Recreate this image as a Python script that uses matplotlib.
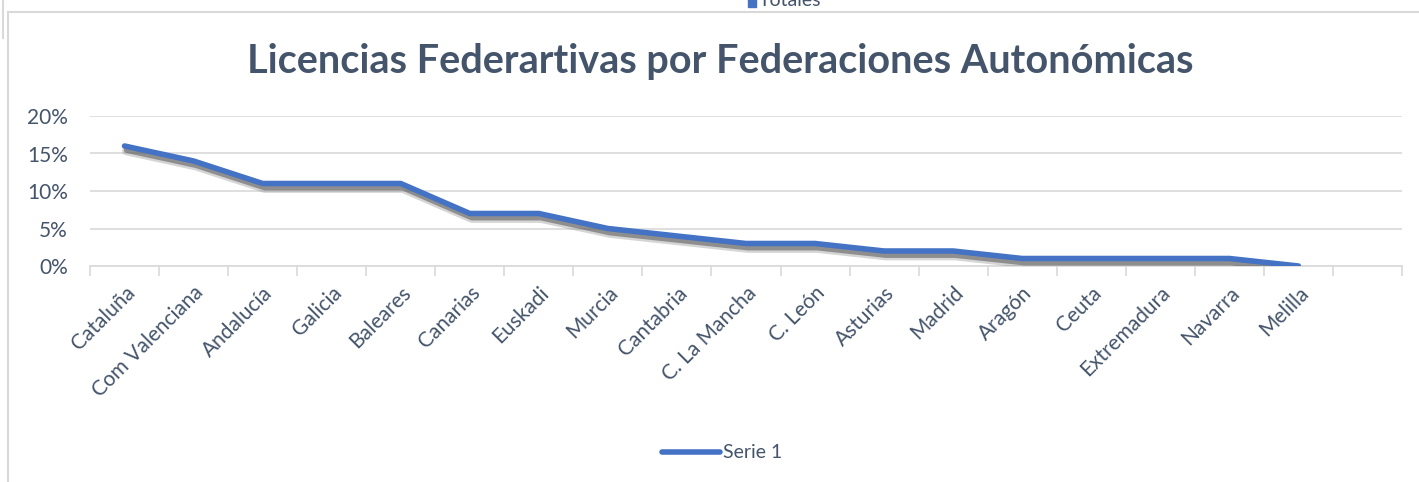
import matplotlib
matplotlib.use("Agg")
import matplotlib.pyplot as plt
import matplotlib.patheffects as pe
from matplotlib.ticker import FuncFormatter, FixedLocator
from matplotlib.lines import Line2D
from matplotlib.patches import Rectangle

categories = ["Cataluña", "Com Valenciana", "Andalucía", "Galicia", "Baleares",
              "Canarias", "Euskadi", "Murcia", "Cantabria", "C. La Mancha",
              "C. León", "Asturias", "Madrid", "Aragón", "Ceuta", "Extremadura",
              "Navarra", "Melilla", ""]
values = [16, 14, 11, 11, 11, 7, 7, 5, 4, 3, 3, 2, 2, 1, 1, 1, 1, 0]
y_ticks = [0, 5, 10, 15, 20]
title = "Licencias Federartivas por Federaciones Autonómicas"
series_name = "Serie 1"
top_legend = "Totales"

W, H = 1419, 482
TXT = "#44546A"
BLUE = "#4472C4"
GRID = "#D9D9D9"
plt.rcParams['font.family'] = ['Lato', 'DejaVu Sans']

fig = plt.figure(figsize=(W / 100, H / 100), dpi=100)
ax = fig.add_axes([90 / W, 1 - 266 / H, (1402 - 90) / W, (266 - 116) / H])

x = list(range(len(values)))
ax.plot(x, values, color=BLUE, lw=4.0, solid_capstyle='round', solid_joinstyle='round',
        path_effects=[pe.SimpleLineShadow(offset=(1.5, -3.5), shadow_color='#888888', alpha=0.35,
                                          linewidth=6.5),
                      pe.SimpleLineShadow(offset=(1.5, -3), shadow_color='#555555', alpha=0.55),
                      pe.Normal()], zorder=3)

ax.set_xlim(-0.5, len(categories) - 0.5)
ax.set_ylim(0, 20)
ax.set_yticks(y_ticks)
ax.yaxis.set_major_formatter(FuncFormatter(lambda v, p: f"{int(v)}%"))
ax.yaxis.grid(True, color=GRID, lw=1.2)
ax.set_axisbelow(True)
ax.tick_params(axis='y', length=0, labelsize=15, labelcolor=TXT, pad=16)

ax.set_xticks(range(len(categories)))
ax.set_xticklabels(categories, rotation=45, ha='right', rotation_mode='anchor')
ax.tick_params(axis='x', which='major', length=0, labelsize=15, labelcolor=TXT, pad=12)
ax.xaxis.set_minor_locator(FixedLocator([i - 0.5 for i in range(len(categories) + 1)]))
ax.tick_params(axis='x', which='minor', length=7, color=GRID, width=1.2)

for s in ['top', 'right', 'left']:
    ax.spines[s].set_visible(False)
ax.spines['bottom'].set_color(GRID)
ax.spines['bottom'].set_linewidth(1.2)

# title
fig.text(720 / W, 1 - 61 / H, title, ha='center', va='center', fontsize=28.5,
         fontweight='bold', color=TXT)

# bottom legend
handle = Line2D([0], [0], color=BLUE, lw=4.0, solid_capstyle='round')
fig.legend([handle], [series_name], loc='center', bbox_to_anchor=(722 / W, 1 - 453 / H),
           frameon=False, fontsize=14, labelcolor=TXT, handlelength=3.0, handletextpad=0.15)

# chart frame lines
fig.add_artist(Line2D([8 / W, 1], [1 - 12 / H, 1 - 12 / H], color=GRID, lw=1.5,
                      transform=fig.transFigure))
fig.add_artist(Line2D([8 / W, 8 / W], [0, 1 - 12 / H], color=GRID, lw=1.5,
                      transform=fig.transFigure))
fig.add_artist(Line2D([3 / W, 3 / W], [1 - 38 / H, 1], color=GRID, lw=1.5,
                      transform=fig.transFigure))

# partially visible legend from chart above
fig.add_artist(Rectangle((748 / W, 1 - 7 / H), 8 / W, 8 / H, color=BLUE,
                         transform=fig.transFigure))
fig.text(759 / W, 1 - 1 / H, top_legend, ha='left', va='center', fontsize=14, color=TXT)

fig.savefig("out.png", dpi=100)
